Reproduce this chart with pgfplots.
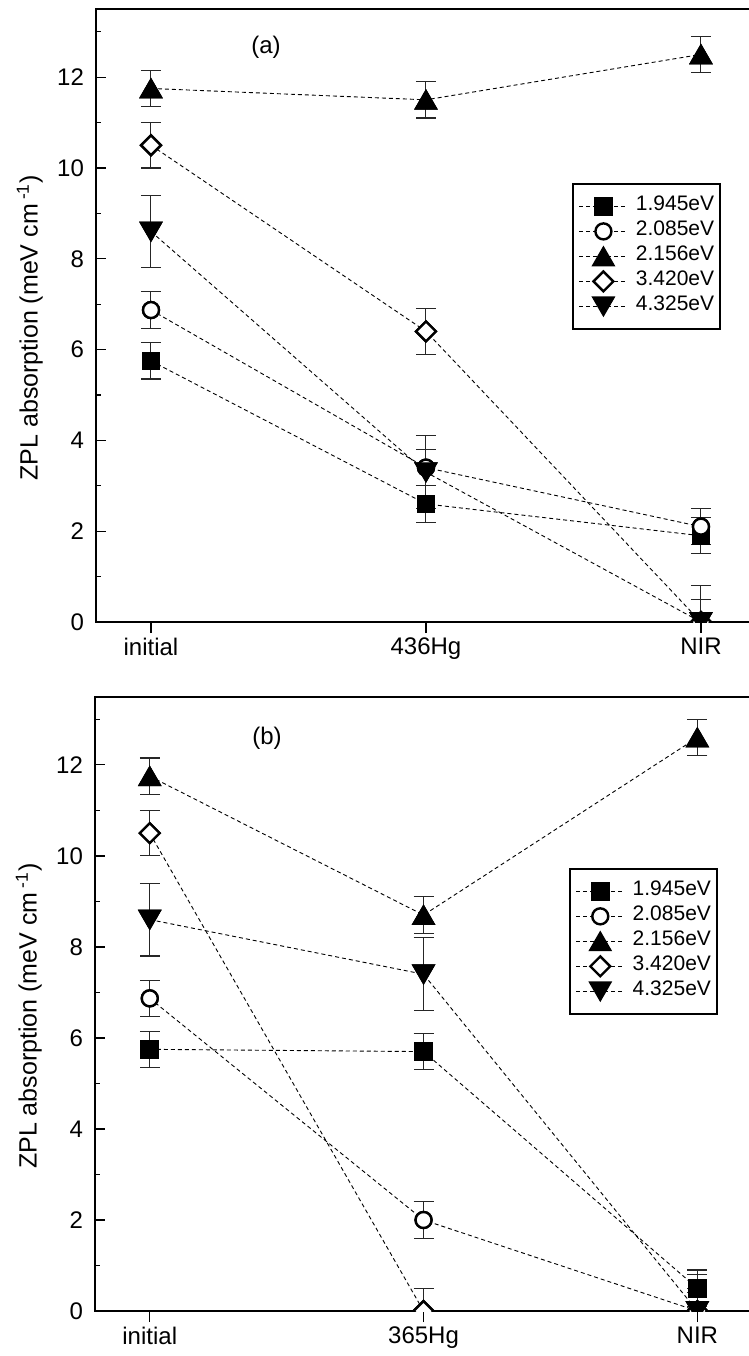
\documentclass[border=0pt]{standalone}
\usepackage{fontspec}
\setmainfont{Liberation Sans}
\usepackage{pgfplots}
\pgfplotsset{compat=1.18}

\pgfplotsset{
  myaxis/.style={
    scale only axis,
    xmin=-0.2, ymin=0, ymax=13.5,
    clip marker paths=true,
    xtick={0,1,2},
    ytick={0,2,...,12},
    minor ytick={1,3,...,13},
    xtick pos=bottom, ytick pos=left,
    tick align=inside,
    major tick length=5pt, minor tick length=2.5pt,
    tick style={black, line width=0.6pt},
    xtick style={yshift=-5.5pt},
    axis line style={line width=1pt},
    /pgf/number format/assume math mode=true,
    tick label style={font=\fontsize{12}{14}\selectfont},
    xticklabel style={yshift=-4.5pt},
    yticklabel style={xshift=-2.5pt},
    ylabel={ZPL absorption (meV cm\,\textsuperscript{-1})},
    ylabel style={font=\fontsize{12.5}{15}\selectfont, at={(axis description cs:-0.101,0.48)}, anchor=center},
    legend cell align=left,
    legend image code/.code={\draw[mark repeat=2,mark phase=2,##1] plot coordinates {(0pt,0pt) (12pt,0pt) (24pt,0pt)};},
    legend style={anchor=north west, draw=black, line width=0.8pt, inner xsep=3pt, inner ysep=5pt,
      row sep=0pt, column sep=4pt, font=\fontsize{10.5}{12}\selectfont,
      nodes={inner sep=0pt, text height=8.5pt, text depth=4pt}},
    legend entries={1.945eV,2.085eV,2.156eV,3.420eV,4.325eV},
  },
  ser/.style={black, line width=0.45pt, dash pattern=on 2pt off 1.5pt},
  sq/.style={mark=square*, mark size=4.4pt, mark options={solid, fill=black, line width=0.6pt}},
  ci/.style={mark=*, mark size=4pt, mark options={solid, fill=white, line width=1.2pt}},
  tu/.style={mark=triangle*, mark size=6.3pt, mark options={solid, fill=black, yshift=-1.5pt, line width=0.6pt}},
  di/.style={mark=square*, mark size=3.5pt, mark options={solid, fill=white, rotate=45, line width=1.2pt}},
  td/.style={mark=triangle*, mark size=6.3pt, mark options={solid, fill=black, yshift=1.5pt, rotate=180, line width=0.6pt}},
  eb/.style={error bars/.cd, y dir=both, y explicit,
    error bar style={line width=0.5pt, black!85, solid},
    error mark options={rotate=90, mark size=5pt, line width=0.6pt, black!85, solid}},
  om/.style={only marks, forget plot, black},
}

\begin{document}
\begin{tikzpicture}
\path[use as bounding box] (0,0) rectangle (374.5pt,-678pt);

% ---------- panel (a)
\begin{axis}[myaxis, at={(48pt,-4.5pt)}, anchor=north west,
  width=327.5pt, height=306.5pt, xmax=2.182,
  xticklabels={initial,436Hg,NIR},
  legend style={at={(axis description cs:0.727,0.716)}}]
\addplot[ser, sq, eb] coordinates {(0,5.75) +- (0,0.4) (1,2.6) +- (0,0.4) (2,1.9) +- (0,0.4)};
\addplot[ser, ci, eb] coordinates {(0,6.87) +- (0,0.4) (1,3.4) +- (0,0.4) (2,2.1) +- (0,0.4)};
\addplot[ser, tu, eb] coordinates {(0,11.75) +- (0,0.4) (1,11.5) +- (0,0.4) (2,12.5) +- (0,0.4)};
\addplot[ser, di, eb] coordinates {(0,10.5) +- (0,0.5) (1,6.4) +- (0,0.5) (2,0) +- (0,0.5)};
\addplot[ser, td, eb] coordinates {(0,8.6) +- (0,0.8) (1,3.3) +- (0,0.8) (2,0) +- (0,0.8)};
\addplot[om, sq] coordinates {(0,5.75) (1,2.6) (2,1.9)};
\addplot[om, ci] coordinates {(0,6.87) (1,3.4) (2,2.1)};
\addplot[om, tu] coordinates {(0,11.75) (1,11.5) (2,12.5)};
\addplot[om, di] coordinates {(0,10.5) (1,6.4) (2,0)};
\addplot[om, td] coordinates {(0,8.6) (1,3.3) (2,0)};
\node[font=\fontsize{12}{14}\selectfont] at (axis cs:0.418,12.66) {(a)};
\end{axis}

% ---------- panel (b)
\begin{axis}[myaxis, at={(47.5pt,-348.3pt)}, anchor=north west,
  width=328pt, height=307.2pt, xmax=2.196,
  xticklabels={initial,365Hg,NIR},
  legend style={at={(axis description cs:0.7226,0.721)}}]
\addplot[ser, sq, eb] coordinates {(0,5.75) +- (0,0.4) (1,5.7) +- (0,0.4) (2,0.5) +- (0,0.4)};
\addplot[ser, ci, eb] coordinates {(0,6.87) +- (0,0.4) (1,2.0) +- (0,0.4) (2,0) +- (0,0.4)};
\addplot[ser, tu, eb] coordinates {(0,11.75) +- (0,0.4) (1,8.7) +- (0,0.4) (2,12.6) +- (0,0.4)};
\addplot[ser, di, eb] coordinates {(0,10.5) +- (0,0.5) (1,0) +- (0,0.5) (2,0) +- (0,0.5)};
\addplot[ser, td, eb] coordinates {(0,8.6) +- (0,0.8) (1,7.4) +- (0,0.8) (2,0) +- (0,0.8)};
\addplot[om, sq] coordinates {(0,5.75) (1,5.7) (2,0.5)};
\addplot[om, ci] coordinates {(0,6.87) (1,2.0) (2,0)};
\addplot[om, tu] coordinates {(0,11.75) (1,8.7) (2,12.6)};
\addplot[om, di] coordinates {(0,10.5) (1,0) (2,0)};
\addplot[om, td] coordinates {(0,8.6) (1,7.4) (2,0)};
\node[font=\fontsize{12}{14}\selectfont] at (axis cs:0.428,12.59) {(b)};
\end{axis}
\end{tikzpicture}
\end{document}
